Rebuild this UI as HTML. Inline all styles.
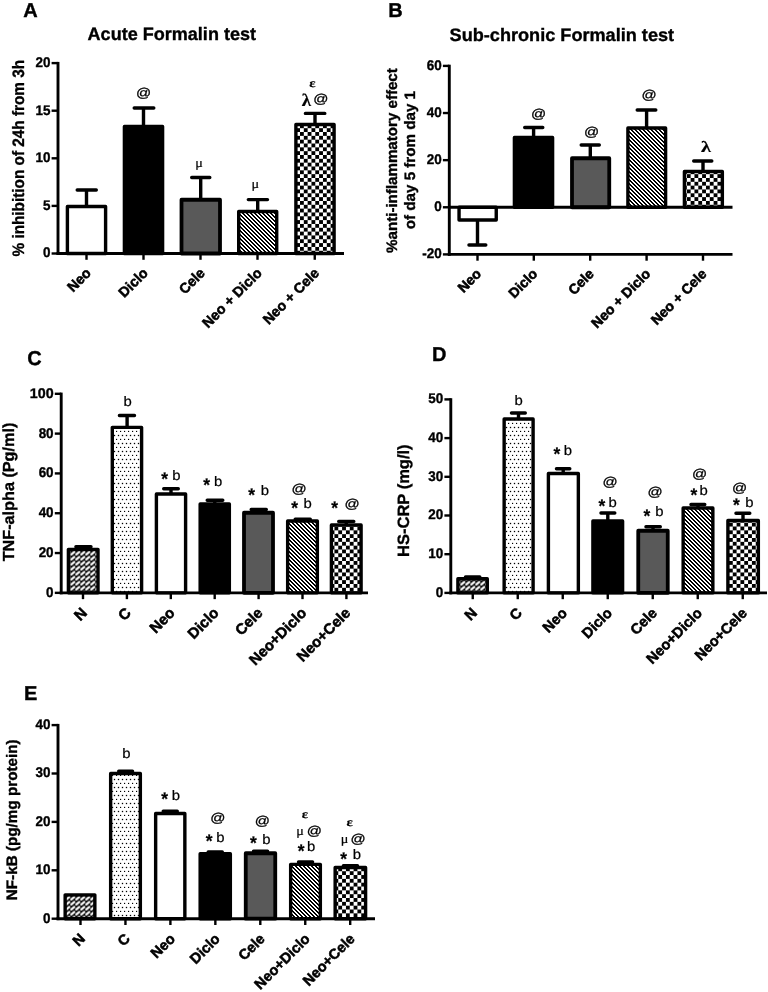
<!DOCTYPE html>
<html lang="en">
<head>
<meta charset="utf-8">
<title>Formalin test and inflammatory markers - bar charts</title>
<style>
html,body{margin:0;padding:0;background:#fff;}
body{width:768px;height:992px;overflow:hidden;font-family:"Liberation Sans",sans-serif;}
svg{display:block;will-change:transform;filter:grayscale(1);}
svg text{fill:#000;font-family:"Liberation Sans",sans-serif;text-rendering:geometricPrecision;}
svg text.b{font-weight:bold;stroke:#000;stroke-width:0.35px;}
svg text.xl{stroke-width:0.55px;}
svg text.g-sans{font-family:"Liberation Sans",sans-serif;font-weight:normal;}
svg text.g-sansb{font-family:"Liberation Sans",sans-serif;font-weight:bold;}
svg text.g-serif{font-family:"Liberation Serif",serif;font-weight:normal;}
svg text.g-serifb{font-family:"Liberation Serif",serif;font-weight:bold;}
</style>
</head>
<body>
<svg width="768" height="992" viewBox="0 0 768 992">
<defs>
<pattern id="pChk" patternUnits="userSpaceOnUse" x="5.06" y="5.64" width="7.66" height="7.66">
<rect width="7.66" height="7.66" fill="#fff"/><rect x="0" y="0" width="3.83" height="3.83" fill="#000"/><rect x="3.83" y="3.83" width="3.83" height="3.83" fill="#000"/>
</pattern>
<pattern id="pHatch" patternUnits="userSpaceOnUse" x="1" y="0" width="4" height="4">
<rect width="4" height="4" fill="#fff"/><path d="M0 0h2v1h-2zM1 1h2v1h-2zM2 2h2v1h-2zM3 3h1v1h-1zM0 3h1v1h-1z" fill="#000" shape-rendering="crispEdges"/>
</pattern>
<pattern id="pDot" patternUnits="userSpaceOnUse" x="0" y="0" width="4" height="8">
<rect width="4" height="8" fill="#fff"/><rect x="-0.15" y="6.85" width="1.3" height="1.3" fill="#000"/><rect x="1.85" y="2.85" width="1.3" height="1.3" fill="#000"/>
</pattern>
<pattern id="pN" patternUnits="userSpaceOnUse" x="0.3" y="0.6" width="5" height="5">
<rect width="5" height="5" fill="#000"/><path d="M1.0 3.9L4.0 1.3" stroke="#fff" stroke-width="2.2" stroke-linecap="round"/>
</pattern>
</defs>
<rect width="768" height="992" fill="#fff"/>
<!-- Panel A -->
<text x="23.30" y="16.60" font-size="20" class="b">A</text>
<text x="87.60" y="40.40" font-size="18" class="b" textLength="168.4" lengthAdjust="spacingAndGlyphs">Acute Formalin test</text>
<text transform="translate(23.50 256.50) rotate(-90)" font-size="16.5" class="b" textLength="196.6" lengthAdjust="spacingAndGlyphs">% inhibition of 24h from 3h</text>
<path d="M86.50 206.00V190.00M77.20 190.00H96.30" stroke="#000" stroke-width="3.4" stroke-linecap="round" fill="none"/>
<rect x="67.40" y="206.55" width="38.20" height="46.95" fill="#fff" stroke="#000" stroke-width="3.4" stroke-linejoin="round"/>
<path d="M143.50 126.00V108.00M134.20 108.00H153.80" stroke="#000" stroke-width="3.4" stroke-linecap="round" fill="none"/>
<rect x="124.40" y="126.55" width="38.20" height="126.95" fill="#000" stroke="#000" stroke-width="3.4" stroke-linejoin="round"/>
<path d="M200.70 199.00V177.50M191.70 177.50H209.80" stroke="#000" stroke-width="3.4" stroke-linecap="round" fill="none"/>
<rect x="181.50" y="199.75" width="38.50" height="53.75" fill="#595959" stroke="#000" stroke-width="3.8" stroke-linejoin="round"/>
<path d="M257.70 211.00V199.60M248.30 199.60H267.50" stroke="#000" stroke-width="3.4" stroke-linecap="round" fill="none"/>
<rect x="238.70" y="211.55" width="38.00" height="41.95" fill="url(#pHatch)" stroke="#000" stroke-width="3.4" stroke-linejoin="round"/>
<path d="M315.00 124.00V113.40M305.40 113.40H324.80" stroke="#000" stroke-width="3.4" stroke-linecap="round" fill="none"/>
<rect x="295.90" y="124.55" width="38.20" height="128.95" fill="url(#pChk)" stroke="#000" stroke-width="3.4" stroke-linejoin="round"/>
<path d="M58.00 61.90V254.95" stroke="#000" stroke-width="2.9" fill="none"/>
<path d="M56.55 253.50H344.00" stroke="#000" stroke-width="2.9" fill="none"/>
<path d="M51.60 253.50H58.00" stroke="#000" stroke-width="2.4"/>
<text transform="translate(50.40 257.40) scale(0.96 1)" text-anchor="end" font-size="14" class="b">0</text>
<path d="M51.60 205.90H58.00" stroke="#000" stroke-width="2.4"/>
<text transform="translate(50.40 209.80) scale(0.96 1)" text-anchor="end" font-size="14" class="b">5</text>
<path d="M51.60 158.30H58.00" stroke="#000" stroke-width="2.4"/>
<text transform="translate(50.40 162.20) scale(0.96 1)" text-anchor="end" font-size="14" class="b">10</text>
<path d="M51.60 110.70H58.00" stroke="#000" stroke-width="2.4"/>
<text transform="translate(50.40 114.60) scale(0.96 1)" text-anchor="end" font-size="14" class="b">15</text>
<path d="M51.60 63.10H58.00" stroke="#000" stroke-width="2.4"/>
<text transform="translate(50.40 67.00) scale(0.96 1)" text-anchor="end" font-size="14" class="b">20</text>
<path d="M86.50 253.50V259.80" stroke="#000" stroke-width="2.4"/>
<path d="M143.50 253.50V259.80" stroke="#000" stroke-width="2.4"/>
<path d="M200.50 253.50V259.80" stroke="#000" stroke-width="2.4"/>
<path d="M257.50 253.50V259.80" stroke="#000" stroke-width="2.4"/>
<path d="M314.75 253.50V259.80" stroke="#000" stroke-width="2.4"/>
<text transform="translate(91.80 273.90) rotate(-45)" text-anchor="end" font-size="14.15" class="b xl">Neo</text>
<text transform="translate(148.80 273.90) rotate(-45)" text-anchor="end" font-size="14.15" class="b xl">Diclo</text>
<text transform="translate(205.80 273.90) rotate(-45)" text-anchor="end" font-size="14.15" class="b xl">Cele</text>
<text transform="translate(262.80 273.90) rotate(-45)" text-anchor="end" font-size="14.15" class="b xl">Neo + Diclo</text>
<text transform="translate(320.05 273.90) rotate(-45)" text-anchor="end" font-size="14.15" class="b xl">Neo + Cele</text>
<text transform="matrix(0.7471 0 0 0.6377 135.99 97.25)" class="g-sans" font-size="20" stroke="#000" stroke-width="0.455">@</text>
<text transform="matrix(0.7108 0 0 0.6519 195.16 167.25)" class="g-serif" font-size="20" stroke="#000" stroke-width="0.309">μ</text>
<text transform="matrix(0.7108 0 0 0.6519 251.46 188.25)" class="g-serif" font-size="20" stroke="#000" stroke-width="0.309">μ</text>
<text transform="matrix(0.9430 0 0 0.8865 301.81 105.95)" class="g-serifb" font-size="20" stroke="#000" stroke-width="0.233">λ</text>
<text transform="matrix(0.7471 0 0 0.6377 313.14 103.45)" class="g-sans" font-size="20" stroke="#000" stroke-width="0.455">@</text>
<text transform="matrix(0.7368 0 0 0.6042 309.19 87.08)" class="g-serifb" font-size="20" stroke="#000" stroke-width="0.299">ε</text>
<!-- Panel B -->
<text x="388.20" y="16.90" font-size="20" class="b">B</text>
<text x="449.60" y="40.60" font-size="18" class="b" textLength="224.5" lengthAdjust="spacingAndGlyphs">Sub-chronic Formalin test</text>
<text transform="translate(397.30 252.90) rotate(-90)" font-size="15.1" class="b" textLength="184.7" lengthAdjust="spacingAndGlyphs">%anti-inflammatory effect</text>
<text transform="translate(414.80 229.20) rotate(-90)" font-size="15.1" class="b" textLength="138.2" lengthAdjust="spacingAndGlyphs">of day 5 from day 1</text>
<path d="M477.50 220.00V245.00M468.95 245.00H485.80" stroke="#000" stroke-width="3.4" stroke-linecap="round" fill="none"/>
<rect x="459.05" y="207.25" width="37.20" height="12.75" fill="#fff" stroke="#000" stroke-width="3.4" stroke-linejoin="round"/>
<path d="M533.60 137.00V127.50M524.70 127.50H542.80" stroke="#000" stroke-width="3.4" stroke-linecap="round" fill="none"/>
<rect x="514.40" y="137.55" width="38.20" height="69.70" fill="#000" stroke="#000" stroke-width="3.4" stroke-linejoin="round"/>
<path d="M590.30 157.50V145.00M581.20 145.00H599.30" stroke="#000" stroke-width="3.4" stroke-linecap="round" fill="none"/>
<rect x="572.00" y="158.25" width="37.25" height="49.00" fill="#595959" stroke="#000" stroke-width="3.8" stroke-linejoin="round"/>
<path d="M646.60 127.50V110.00M637.20 110.00H655.80" stroke="#000" stroke-width="3.4" stroke-linecap="round" fill="none"/>
<rect x="627.90" y="128.05" width="37.70" height="79.20" fill="url(#pHatch)" stroke="#000" stroke-width="3.4" stroke-linejoin="round"/>
<path d="M703.00 171.00V161.00M693.70 161.00H711.80" stroke="#000" stroke-width="3.4" stroke-linecap="round" fill="none"/>
<rect x="684.40" y="171.55" width="37.95" height="35.70" fill="url(#pChk)" stroke="#000" stroke-width="3.4" stroke-linejoin="round"/>
<path d="M449.3 207.25H732.5" stroke="#000" stroke-width="2.9"/>
<path d="M449.30 64.70V255.85" stroke="#000" stroke-width="2.9" fill="none"/>
<path d="M447.85 254.40H732.50" stroke="#000" stroke-width="2.9" fill="none"/>
<path d="M442.90 254.40H449.30" stroke="#000" stroke-width="2.4"/>
<text transform="translate(441.70 258.30) scale(0.96 1)" text-anchor="end" font-size="14" class="b">-20</text>
<path d="M442.90 207.28H449.30" stroke="#000" stroke-width="2.4"/>
<text transform="translate(441.70 211.18) scale(0.96 1)" text-anchor="end" font-size="14" class="b">0</text>
<path d="M442.90 160.15H449.30" stroke="#000" stroke-width="2.4"/>
<text transform="translate(441.70 164.05) scale(0.96 1)" text-anchor="end" font-size="14" class="b">20</text>
<path d="M442.90 113.03H449.30" stroke="#000" stroke-width="2.4"/>
<text transform="translate(441.70 116.93) scale(0.96 1)" text-anchor="end" font-size="14" class="b">40</text>
<path d="M442.90 65.90H449.30" stroke="#000" stroke-width="2.4"/>
<text transform="translate(441.70 69.80) scale(0.96 1)" text-anchor="end" font-size="14" class="b">60</text>
<path d="M477.50 254.40V260.70" stroke="#000" stroke-width="2.4"/>
<path d="M533.80 254.40V260.70" stroke="#000" stroke-width="2.4"/>
<path d="M590.20 254.40V260.70" stroke="#000" stroke-width="2.4"/>
<path d="M646.60 254.40V260.70" stroke="#000" stroke-width="2.4"/>
<path d="M703.00 254.40V260.70" stroke="#000" stroke-width="2.4"/>
<text transform="translate(482.10 274.80) rotate(-45)" text-anchor="end" font-size="14" class="b xl">Neo</text>
<text transform="translate(538.40 274.80) rotate(-45)" text-anchor="end" font-size="14" class="b xl">Diclo</text>
<text transform="translate(594.80 274.80) rotate(-45)" text-anchor="end" font-size="14" class="b xl">Cele</text>
<text transform="translate(651.20 274.80) rotate(-45)" text-anchor="end" font-size="14" class="b xl">Neo + Diclo</text>
<text transform="translate(707.60 274.80) rotate(-45)" text-anchor="end" font-size="14" class="b xl">Neo + Cele</text>
<text transform="matrix(0.7471 0 0 0.6377 530.99 118.40)" class="g-sans" font-size="20" stroke="#000" stroke-width="0.455">@</text>
<text transform="matrix(0.7471 0 0 0.6377 583.99 136.00)" class="g-sans" font-size="20" stroke="#000" stroke-width="0.455">@</text>
<text transform="matrix(0.7471 0 0 0.6377 641.62 99.00)" class="g-sans" font-size="20" stroke="#000" stroke-width="0.455">@</text>
<text transform="matrix(1.0155 0 0 0.7872 701.10 152.45)" class="g-serifb" font-size="20" stroke="#000" stroke-width="0.217">λ</text>
<!-- Panel C -->
<text x="27.20" y="364.70" font-size="20" class="b">C</text>
<text transform="translate(13.70 561.30) rotate(-90)" font-size="16" class="b" textLength="138.6" lengthAdjust="spacingAndGlyphs">TNF-alpha (Pg/ml)</text>
<path d="M83.20 548.80V546.70M75.90 546.70H91.00" stroke="#000" stroke-width="3.4" stroke-linecap="round" fill="none"/>
<rect x="68.40" y="549.35" width="29.60" height="43.50" fill="url(#pN)" stroke="#000" stroke-width="3.4" stroke-linejoin="round"/>
<path d="M127.10 426.80V415.50M119.40 415.50H134.50" stroke="#000" stroke-width="3.4" stroke-linecap="round" fill="none"/>
<rect x="112.30" y="427.35" width="29.30" height="165.50" fill="url(#pDot)" stroke="#000" stroke-width="3.4" stroke-linejoin="round"/>
<path d="M171.00 493.50V488.75M163.70 488.75H178.30" stroke="#000" stroke-width="3.4" stroke-linecap="round" fill="none"/>
<rect x="156.40" y="494.05" width="29.20" height="98.80" fill="#fff" stroke="#000" stroke-width="3.4" stroke-linejoin="round"/>
<path d="M214.75 503.50V500.20M207.20 500.20H222.80" stroke="#000" stroke-width="3.4" stroke-linecap="round" fill="none"/>
<rect x="200.15" y="504.05" width="29.20" height="88.80" fill="#000" stroke="#000" stroke-width="3.4" stroke-linejoin="round"/>
<path d="M258.50 512.00V509.50M251.20 509.50H266.30" stroke="#000" stroke-width="3.4" stroke-linecap="round" fill="none"/>
<rect x="244.00" y="512.75" width="29.00" height="80.10" fill="#595959" stroke="#000" stroke-width="3.8" stroke-linejoin="round"/>
<path d="M302.50 520.50V519.20M295.20 519.20H310.30" stroke="#000" stroke-width="3.4" stroke-linecap="round" fill="none"/>
<rect x="287.65" y="521.05" width="29.70" height="71.80" fill="url(#pHatch)" stroke="#000" stroke-width="3.4" stroke-linejoin="round"/>
<path d="M346.25 524.50V521.40M338.70 521.40H353.80" stroke="#000" stroke-width="3.4" stroke-linecap="round" fill="none"/>
<rect x="331.40" y="525.05" width="29.70" height="67.80" fill="url(#pChk)" stroke="#000" stroke-width="3.4" stroke-linejoin="round"/>
<path d="M61.20 392.60V594.30" stroke="#000" stroke-width="2.9" fill="none"/>
<path d="M59.75 592.85H368.00" stroke="#000" stroke-width="2.9" fill="none"/>
<path d="M54.80 592.85H61.20" stroke="#000" stroke-width="2.4"/>
<text transform="translate(53.60 596.75) scale(0.96 1)" text-anchor="end" font-size="14" class="b">0</text>
<path d="M54.80 553.04H61.20" stroke="#000" stroke-width="2.4"/>
<text transform="translate(53.60 556.94) scale(0.96 1)" text-anchor="end" font-size="14" class="b">20</text>
<path d="M54.80 513.23H61.20" stroke="#000" stroke-width="2.4"/>
<text transform="translate(53.60 517.13) scale(0.96 1)" text-anchor="end" font-size="14" class="b">40</text>
<path d="M54.80 473.42H61.20" stroke="#000" stroke-width="2.4"/>
<text transform="translate(53.60 477.32) scale(0.96 1)" text-anchor="end" font-size="14" class="b">60</text>
<path d="M54.80 433.61H61.20" stroke="#000" stroke-width="2.4"/>
<text transform="translate(53.60 437.51) scale(0.96 1)" text-anchor="end" font-size="14" class="b">80</text>
<path d="M54.80 393.80H61.20" stroke="#000" stroke-width="2.4"/>
<text transform="translate(53.60 397.70) scale(1.02 1)" text-anchor="end" font-size="14" class="b">100</text>
<path d="M83.00 592.85V599.15" stroke="#000" stroke-width="2.4"/>
<path d="M126.90 592.85V599.15" stroke="#000" stroke-width="2.4"/>
<path d="M170.80 592.85V599.15" stroke="#000" stroke-width="2.4"/>
<path d="M214.70 592.85V599.15" stroke="#000" stroke-width="2.4"/>
<path d="M258.60 592.85V599.15" stroke="#000" stroke-width="2.4"/>
<path d="M302.50 592.85V599.15" stroke="#000" stroke-width="2.4"/>
<path d="M346.40 592.85V599.15" stroke="#000" stroke-width="2.4"/>
<text transform="translate(88.00 613.85) rotate(-45)" text-anchor="end" font-size="15" class="b xl">N</text>
<text transform="translate(131.90 613.85) rotate(-45)" text-anchor="end" font-size="15" class="b xl">C</text>
<text transform="translate(175.80 613.85) rotate(-45)" text-anchor="end" font-size="15" class="b xl">Neo</text>
<text transform="translate(219.70 613.85) rotate(-45)" text-anchor="end" font-size="15" class="b xl">Diclo</text>
<text transform="translate(263.60 613.85) rotate(-45)" text-anchor="end" font-size="15" class="b xl">Cele</text>
<text transform="translate(307.50 613.85) rotate(-45)" text-anchor="end" font-size="15" class="b xl">Neo+Diclo</text>
<text transform="translate(351.40 613.85) rotate(-45)" text-anchor="end" font-size="15" class="b xl">Neo+Cele</text>
<text transform="matrix(0.7444 0 0 0.6871 123.43 405.61)" class="g-sans" font-size="20" stroke="#000" stroke-width="0.296">b</text>
<text transform="matrix(0.8701 0 0 0.9128 161.23 484.93)" class="g-sansb" font-size="20" stroke="#000" stroke-width="0.253">*</text>
<text transform="matrix(0.7444 0 0 0.6871 172.18 480.11)" class="g-sans" font-size="20" stroke="#000" stroke-width="0.296">b</text>
<text transform="matrix(0.8701 0 0 0.9128 203.23 490.70)" class="g-sansb" font-size="20" stroke="#000" stroke-width="0.253">*</text>
<text transform="matrix(0.7444 0 0 0.6871 213.93 486.11)" class="g-sans" font-size="20" stroke="#000" stroke-width="0.296">b</text>
<text transform="matrix(0.8701 0 0 0.9128 248.23 501.33)" class="g-sansb" font-size="20" stroke="#000" stroke-width="0.253">*</text>
<text transform="matrix(0.7444 0 0 0.6871 260.68 495.41)" class="g-sans" font-size="20" stroke="#000" stroke-width="0.296">b</text>
<text transform="matrix(0.7471 0 0 0.6377 291.62 492.50)" class="g-sans" font-size="20" stroke="#000" stroke-width="0.455">@</text>
<text transform="matrix(0.8701 0 0 0.9128 291.23 513.55)" class="g-sansb" font-size="20" stroke="#000" stroke-width="0.253">*</text>
<text transform="matrix(0.7444 0 0 0.6871 303.43 508.01)" class="g-sans" font-size="20" stroke="#000" stroke-width="0.296">b</text>
<text transform="matrix(0.8701 0 0 0.9128 331.23 513.55)" class="g-sansb" font-size="20" stroke="#000" stroke-width="0.253">*</text>
<text transform="matrix(0.7471 0 0 0.6377 344.62 507.50)" class="g-sans" font-size="20" stroke="#000" stroke-width="0.455">@</text>
<!-- Panel D -->
<text x="431.90" y="361.40" font-size="20" class="b">D</text>
<text transform="translate(409.00 556.90) rotate(-90)" font-size="16.3" class="b" textLength="112.5" lengthAdjust="spacingAndGlyphs">HS-CRP (mg/l)</text>
<path d="M472.60 578.15V577.00M465.50 577.00H479.80" stroke="#000" stroke-width="3.4" stroke-linecap="round" fill="none"/>
<rect x="457.90" y="578.70" width="29.40" height="14.20" fill="url(#pN)" stroke="#000" stroke-width="3.4" stroke-linejoin="round"/>
<path d="M518.50 418.50V413.00M511.45 413.00H525.30" stroke="#000" stroke-width="3.4" stroke-linecap="round" fill="none"/>
<rect x="504.15" y="419.05" width="28.95" height="173.85" fill="url(#pDot)" stroke="#000" stroke-width="3.4" stroke-linejoin="round"/>
<path d="M563.20 473.00V468.75M556.45 468.75H569.80" stroke="#000" stroke-width="3.4" stroke-linecap="round" fill="none"/>
<rect x="548.40" y="473.55" width="29.95" height="119.35" fill="#fff" stroke="#000" stroke-width="3.4" stroke-linejoin="round"/>
<path d="M607.80 520.50V513.00M600.95 513.00H614.80" stroke="#000" stroke-width="3.4" stroke-linecap="round" fill="none"/>
<rect x="592.90" y="521.05" width="29.70" height="71.85" fill="#000" stroke="#000" stroke-width="3.4" stroke-linejoin="round"/>
<path d="M653.00 530.00V526.75M645.95 526.75H660.30" stroke="#000" stroke-width="3.4" stroke-linecap="round" fill="none"/>
<rect x="638.25" y="530.75" width="29.50" height="62.15" fill="#595959" stroke="#000" stroke-width="3.8" stroke-linejoin="round"/>
<path d="M698.00 507.50V504.50M690.95 504.50H704.80" stroke="#000" stroke-width="3.4" stroke-linecap="round" fill="none"/>
<rect x="683.15" y="508.05" width="29.70" height="84.85" fill="url(#pHatch)" stroke="#000" stroke-width="3.4" stroke-linejoin="round"/>
<path d="M743.00 520.00V513.25M735.95 513.25H749.80" stroke="#000" stroke-width="3.4" stroke-linecap="round" fill="none"/>
<rect x="727.90" y="520.55" width="30.45" height="72.35" fill="url(#pChk)" stroke="#000" stroke-width="3.4" stroke-linejoin="round"/>
<path d="M450.80 398.20V594.35" stroke="#000" stroke-width="2.9" fill="none"/>
<path d="M449.35 592.90H767.00" stroke="#000" stroke-width="2.9" fill="none"/>
<path d="M444.40 592.90H450.80" stroke="#000" stroke-width="2.4"/>
<text transform="translate(443.20 596.80) scale(0.96 1)" text-anchor="end" font-size="14" class="b">0</text>
<path d="M444.40 554.20H450.80" stroke="#000" stroke-width="2.4"/>
<text transform="translate(443.20 558.10) scale(0.96 1)" text-anchor="end" font-size="14" class="b">10</text>
<path d="M444.40 515.50H450.80" stroke="#000" stroke-width="2.4"/>
<text transform="translate(443.20 519.40) scale(0.96 1)" text-anchor="end" font-size="14" class="b">20</text>
<path d="M444.40 476.80H450.80" stroke="#000" stroke-width="2.4"/>
<text transform="translate(443.20 480.70) scale(0.96 1)" text-anchor="end" font-size="14" class="b">30</text>
<path d="M444.40 438.10H450.80" stroke="#000" stroke-width="2.4"/>
<text transform="translate(443.20 442.00) scale(0.96 1)" text-anchor="end" font-size="14" class="b">40</text>
<path d="M444.40 399.40H450.80" stroke="#000" stroke-width="2.4"/>
<text transform="translate(443.20 403.30) scale(0.96 1)" text-anchor="end" font-size="14" class="b">50</text>
<path d="M472.75 592.90V599.20" stroke="#000" stroke-width="2.4"/>
<path d="M517.75 592.90V599.20" stroke="#000" stroke-width="2.4"/>
<path d="M562.75 592.90V599.20" stroke="#000" stroke-width="2.4"/>
<path d="M607.75 592.90V599.20" stroke="#000" stroke-width="2.4"/>
<path d="M652.75 592.90V599.20" stroke="#000" stroke-width="2.4"/>
<path d="M697.75 592.90V599.20" stroke="#000" stroke-width="2.4"/>
<path d="M742.75 592.90V599.20" stroke="#000" stroke-width="2.4"/>
<text transform="translate(477.95 613.90) rotate(-45)" text-anchor="end" font-size="14.6" class="b xl">N</text>
<text transform="translate(522.95 613.90) rotate(-45)" text-anchor="end" font-size="14.6" class="b xl">C</text>
<text transform="translate(567.95 613.90) rotate(-45)" text-anchor="end" font-size="14.6" class="b xl">Neo</text>
<text transform="translate(612.95 613.90) rotate(-45)" text-anchor="end" font-size="14.6" class="b xl">Diclo</text>
<text transform="translate(657.95 613.90) rotate(-45)" text-anchor="end" font-size="14.6" class="b xl">Cele</text>
<text transform="translate(702.95 613.90) rotate(-45)" text-anchor="end" font-size="14.6" class="b xl">Neo+Diclo</text>
<text transform="translate(747.95 613.90) rotate(-45)" text-anchor="end" font-size="14.6" class="b xl">Neo+Cele</text>
<text transform="matrix(0.7444 0 0 0.6871 514.43 404.61)" class="g-sans" font-size="20" stroke="#000" stroke-width="0.296">b</text>
<text transform="matrix(0.8701 0 0 0.9128 553.48 459.68)" class="g-sansb" font-size="20" stroke="#000" stroke-width="0.253">*</text>
<text transform="matrix(0.7444 0 0 0.6871 563.68 455.01)" class="g-sans" font-size="20" stroke="#000" stroke-width="0.296">b</text>
<text transform="matrix(0.7471 0 0 0.6377 602.62 485.62)" class="g-sans" font-size="20" stroke="#000" stroke-width="0.455">@</text>
<text transform="matrix(0.8701 0 0 0.9128 598.48 512.18)" class="g-sansb" font-size="20" stroke="#000" stroke-width="0.253">*</text>
<text transform="matrix(0.7444 0 0 0.6871 608.58 507.01)" class="g-sans" font-size="20" stroke="#000" stroke-width="0.296">b</text>
<text transform="matrix(0.7471 0 0 0.6377 647.49 496.25)" class="g-sans" font-size="20" stroke="#000" stroke-width="0.455">@</text>
<text transform="matrix(0.8701 0 0 0.9128 643.48 521.83)" class="g-sansb" font-size="20" stroke="#000" stroke-width="0.253">*</text>
<text transform="matrix(0.7444 0 0 0.6871 655.18 515.71)" class="g-sans" font-size="20" stroke="#000" stroke-width="0.296">b</text>
<text transform="matrix(0.7471 0 0 0.6377 691.99 477.50)" class="g-sans" font-size="20" stroke="#000" stroke-width="0.455">@</text>
<text transform="matrix(0.8701 0 0 0.9128 690.48 500.90)" class="g-sansb" font-size="20" stroke="#000" stroke-width="0.253">*</text>
<text transform="matrix(0.7444 0 0 0.6871 699.43 495.41)" class="g-sans" font-size="20" stroke="#000" stroke-width="0.296">b</text>
<text transform="matrix(0.7471 0 0 0.6377 731.99 491.87)" class="g-sans" font-size="20" stroke="#000" stroke-width="0.455">@</text>
<text transform="matrix(0.8701 0 0 0.9128 732.98 510.55)" class="g-sansb" font-size="20" stroke="#000" stroke-width="0.253">*</text>
<text transform="matrix(0.7444 0 0 0.6871 745.18 506.81)" class="g-sans" font-size="20" stroke="#000" stroke-width="0.296">b</text>
<!-- Panel E -->
<text x="24.00" y="699.60" font-size="20" class="b">E</text>
<text transform="translate(17.00 900.20) rotate(-90)" font-size="15.2" class="b" textLength="160.8" lengthAdjust="spacingAndGlyphs">NF-kB (pg/mg protein)</text>
<rect x="65.15" y="894.85" width="29.70" height="23.85" fill="url(#pN)" stroke="#000" stroke-width="3.4" stroke-linejoin="round"/>
<path d="M125.50 773.00V771.25M118.70 771.25H132.55" stroke="#000" stroke-width="3.4" stroke-linecap="round" fill="none"/>
<rect x="110.65" y="773.55" width="29.70" height="145.15" fill="url(#pDot)" stroke="#000" stroke-width="3.4" stroke-linejoin="round"/>
<path d="M170.30 813.00V811.25M163.20 811.25H177.30" stroke="#000" stroke-width="3.4" stroke-linecap="round" fill="none"/>
<rect x="155.65" y="813.55" width="29.20" height="105.15" fill="#fff" stroke="#000" stroke-width="3.4" stroke-linejoin="round"/>
<path d="M215.20 853.20V852.00M208.20 852.00H222.30" stroke="#000" stroke-width="3.4" stroke-linecap="round" fill="none"/>
<rect x="200.15" y="853.75" width="30.20" height="64.95" fill="#000" stroke="#000" stroke-width="3.4" stroke-linejoin="round"/>
<path d="M260.50 852.50V851.25M253.50 851.25H267.60" stroke="#000" stroke-width="3.4" stroke-linecap="round" fill="none"/>
<rect x="245.75" y="853.25" width="29.50" height="65.45" fill="#595959" stroke="#000" stroke-width="3.8" stroke-linejoin="round"/>
<path d="M305.50 863.80V862.00M298.50 862.00H312.60" stroke="#000" stroke-width="3.4" stroke-linecap="round" fill="none"/>
<rect x="290.65" y="864.35" width="29.70" height="54.35" fill="url(#pHatch)" stroke="#000" stroke-width="3.4" stroke-linejoin="round"/>
<path d="M350.40 867.00V865.75M343.40 865.75H357.50" stroke="#000" stroke-width="3.4" stroke-linecap="round" fill="none"/>
<rect x="335.15" y="867.55" width="30.45" height="51.15" fill="url(#pChk)" stroke="#000" stroke-width="3.4" stroke-linejoin="round"/>
<path d="M58.00 723.90V920.15" stroke="#000" stroke-width="2.9" fill="none"/>
<path d="M56.55 918.70H375.00" stroke="#000" stroke-width="2.9" fill="none"/>
<path d="M51.60 918.70H58.00" stroke="#000" stroke-width="2.4"/>
<text transform="translate(50.40 922.60) scale(0.96 1)" text-anchor="end" font-size="14" class="b">0</text>
<path d="M51.60 870.30H58.00" stroke="#000" stroke-width="2.4"/>
<text transform="translate(50.40 874.20) scale(0.96 1)" text-anchor="end" font-size="14" class="b">10</text>
<path d="M51.60 821.90H58.00" stroke="#000" stroke-width="2.4"/>
<text transform="translate(50.40 825.80) scale(0.96 1)" text-anchor="end" font-size="14" class="b">20</text>
<path d="M51.60 773.50H58.00" stroke="#000" stroke-width="2.4"/>
<text transform="translate(50.40 777.40) scale(0.96 1)" text-anchor="end" font-size="14" class="b">30</text>
<path d="M51.60 725.10H58.00" stroke="#000" stroke-width="2.4"/>
<text transform="translate(50.40 729.00) scale(0.96 1)" text-anchor="end" font-size="14" class="b">40</text>
<path d="M80.50 918.70V925.00" stroke="#000" stroke-width="2.4"/>
<path d="M125.45 918.70V925.00" stroke="#000" stroke-width="2.4"/>
<path d="M170.40 918.70V925.00" stroke="#000" stroke-width="2.4"/>
<path d="M215.35 918.70V925.00" stroke="#000" stroke-width="2.4"/>
<path d="M260.30 918.70V925.00" stroke="#000" stroke-width="2.4"/>
<path d="M305.25 918.70V925.00" stroke="#000" stroke-width="2.4"/>
<path d="M350.20 918.70V925.00" stroke="#000" stroke-width="2.4"/>
<text transform="translate(86.00 939.70) rotate(-45)" text-anchor="end" font-size="14.5" class="b xl">N</text>
<text transform="translate(130.95 939.70) rotate(-45)" text-anchor="end" font-size="14.5" class="b xl">C</text>
<text transform="translate(175.90 939.70) rotate(-45)" text-anchor="end" font-size="14.5" class="b xl">Neo</text>
<text transform="translate(220.85 939.70) rotate(-45)" text-anchor="end" font-size="14.5" class="b xl">Diclo</text>
<text transform="translate(265.80 939.70) rotate(-45)" text-anchor="end" font-size="14.5" class="b xl">Cele</text>
<text transform="translate(310.75 939.70) rotate(-45)" text-anchor="end" font-size="14.5" class="b xl">Neo+Diclo</text>
<text transform="translate(355.70 939.70) rotate(-45)" text-anchor="end" font-size="14.5" class="b xl">Neo+Cele</text>
<text transform="matrix(0.7444 0 0 0.6871 122.18 757.61)" class="g-sans" font-size="20" stroke="#000" stroke-width="0.296">b</text>
<text transform="matrix(0.8701 0 0 0.9128 161.23 804.93)" class="g-sansb" font-size="20" stroke="#000" stroke-width="0.253">*</text>
<text transform="matrix(0.7444 0 0 0.6871 171.68 800.01)" class="g-sans" font-size="20" stroke="#000" stroke-width="0.296">b</text>
<text transform="matrix(0.7471 0 0 0.6377 210.37 821.75)" class="g-sans" font-size="20" stroke="#000" stroke-width="0.455">@</text>
<text transform="matrix(0.8701 0 0 0.9128 205.73 847.18)" class="g-sansb" font-size="20" stroke="#000" stroke-width="0.253">*</text>
<text transform="matrix(0.7444 0 0 0.6871 216.13 842.41)" class="g-sans" font-size="20" stroke="#000" stroke-width="0.296">b</text>
<text transform="matrix(0.7471 0 0 0.6377 254.74 824.60)" class="g-sans" font-size="20" stroke="#000" stroke-width="0.455">@</text>
<text transform="matrix(0.8701 0 0 0.9128 249.98 849.43)" class="g-sansb" font-size="20" stroke="#000" stroke-width="0.253">*</text>
<text transform="matrix(0.7444 0 0 0.6871 262.18 843.71)" class="g-sans" font-size="20" stroke="#000" stroke-width="0.296">b</text>
<text transform="matrix(0.7368 0 0 0.6042 301.79 818.38)" class="g-serifb" font-size="20" stroke="#000" stroke-width="0.299">ε</text>
<text transform="matrix(0.7108 0 0 0.6519 296.36 834.85)" class="g-serif" font-size="20" stroke="#000" stroke-width="0.309">μ</text>
<text transform="matrix(0.7471 0 0 0.6377 306.74 835.35)" class="g-sans" font-size="20" stroke="#000" stroke-width="0.455">@</text>
<text transform="matrix(0.8701 0 0 0.9128 297.76 857.10)" class="g-sansb" font-size="20" stroke="#000" stroke-width="0.253">*</text>
<text transform="matrix(0.7444 0 0 0.6871 306.88 851.41)" class="g-sans" font-size="20" stroke="#000" stroke-width="0.296">b</text>
<text transform="matrix(0.7368 0 0 0.6042 346.59 826.33)" class="g-serifb" font-size="20" stroke="#000" stroke-width="0.299">ε</text>
<text transform="matrix(0.7108 0 0 0.6519 340.86 842.75)" class="g-serif" font-size="20" stroke="#000" stroke-width="0.309">μ</text>
<text transform="matrix(0.7471 0 0 0.6377 350.44 842.65)" class="g-sans" font-size="20" stroke="#000" stroke-width="0.455">@</text>
<text transform="matrix(0.8701 0 0 0.9128 340.26 864.50)" class="g-sansb" font-size="20" stroke="#000" stroke-width="0.253">*</text>
<text transform="matrix(0.7444 0 0 0.6871 352.78 858.71)" class="g-sans" font-size="20" stroke="#000" stroke-width="0.296">b</text>
</svg>
</body>
</html>
